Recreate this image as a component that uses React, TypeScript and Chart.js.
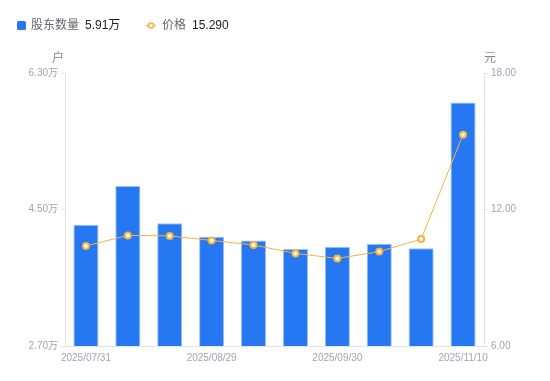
import React, { useEffect, useRef } from "react";
import { Chart, registerables } from "chart.js";

Chart.register(...registerables);

const categories = [
  "2025/07/31", "2025/08/10", "2025/08/20", "2025/08/29", "2025/09/10",
  "2025/09/19", "2025/09/30", "2025/10/20", "2025/10/31", "2025/11/10",
];
const holders = [4.30, 4.81, 4.32, 4.14, 4.09, 3.98, 4.01, 4.05, 3.99, 5.91];
const prices = [10.40, 10.86, 10.84, 10.64, 10.44, 10.07, 9.85, 10.15, 10.70, 15.29];
const leftTicks = [2.7, 4.5, 6.3];
const rightTicks = [6, 12, 18];

const FONT = "'Liberation Sans', 'Noto Sans CJK SC', sans-serif";
const BLUE = "#2677f2";
const ORANGE = "#f7b33c";
const TICK = "#a3a3b3";
const AXIS = "#e3e3e8";

export default function App() {
  const ref = useRef<HTMLCanvasElement>(null);
  useEffect(() => {
    document.body.style.margin = "0";
    const overlay = {
      id: "overlay",
      afterDraw(chart: any) {
        const ctx = chart.ctx;
        const ca = chart.chartArea;
        const ly = 25.5;
        ctx.save();
        ctx.font = `12px ${FONT}`;
        ctx.textBaseline = "middle";
        ctx.textAlign = "left";
        // legend item 1
        ctx.fillStyle = BLUE;
        ctx.beginPath();
        (ctx as any).roundRect ? (ctx as any).roundRect(17, 21, 9, 9, 1.5) : ctx.rect(17, 21, 9, 9);
        ctx.fill();
        ctx.fillStyle = "#666670";
        ctx.fillText("股东数量", 31, ly);
        ctx.fillStyle = "#222";
        ctx.fillText(holders[holders.length - 1].toFixed(2) + "万", 85, ly);
        // legend item 2
        ctx.strokeStyle = ORANGE;
        ctx.lineWidth = 1.5;
        ctx.beginPath();
        ctx.moveTo(146, ly);
        ctx.lineTo(156, ly);
        ctx.stroke();
        ctx.beginPath();
        ctx.arc(151, ly, 2.5, 0, Math.PI * 2);
        ctx.fillStyle = "#fff";
        ctx.fill();
        ctx.lineWidth = 1.5;
        ctx.stroke();
        ctx.fillStyle = "#666670";
        ctx.fillText("价格", 162, ly);
        ctx.fillStyle = "#222";
        ctx.fillText(prices[prices.length - 1].toFixed(3), 192, ly);
        // axis unit titles
        ctx.fillStyle = "#888890";
        ctx.font = `12px ${FONT}`;
        ctx.textAlign = "center";
        ctx.fillText("户", ca.left - 7, 58.5);
        ctx.fillText("元", ca.right + 6, 58.5);
        ctx.restore();
      },
    };
    const chart = new Chart(ref.current!, {
      type: "bar",
      data: {
        labels: categories,
        datasets: [
          {
            type: "line",
            label: "价格",
            data: prices,
            yAxisID: "y1",
            borderColor: ORANGE,
            borderWidth: 1,
            pointRadius: 3,
            pointBorderWidth: 2,
            pointBackgroundColor: "#fff",
            pointBorderColor: ORANGE,
            tension: 0,
            order: 0,
          } as any,
          {
            type: "bar",
            label: "股东数量",
            data: holders,
            yAxisID: "y",
            backgroundColor: BLUE,
            borderColor: "#9cc2fb",
            borderWidth: 1,
            categoryPercentage: 1,
            barPercentage: 0.6,
            order: 1,
          },
        ],
      },
      options: {
        animation: false,
        responsive: false,
        maintainAspectRatio: false,
        layout: { padding: { top: 73, left: 0, right: 0, bottom: 0 } },
        plugins: { legend: { display: false }, tooltip: { enabled: false } },
        scales: {
          x: {
            grid: { drawOnChartArea: false, drawTicks: false },
            border: { color: AXIS },
            ticks: {
              autoSkip: false,
              maxRotation: 0,
              padding: 6,
              color: TICK,
              font: { size: 10, family: FONT },
              callback: (_v: any, i: number) => (i % 3 === 0 ? categories[i] : ""),
            },
            afterFit: (s: any) => { s.height = 35; },
          },
          y: {
            position: "left",
            min: leftTicks[0],
            max: leftTicks[leftTicks.length - 1],
            afterBuildTicks: (s: any) => { s.ticks = leftTicks.map((v) => ({ value: v })); },
            grid: { drawOnChartArea: false, tickLength: 4, color: AXIS },
            border: { color: AXIS },
            ticks: {
              color: TICK,
              padding: 3,
              font: { size: 10, family: FONT },
              callback: (v: any) => Number(v).toFixed(2) + "万",
            },
            afterFit: (s: any) => { s.width = 65; },
          },
          y1: {
            position: "right",
            min: rightTicks[0],
            max: rightTicks[rightTicks.length - 1],
            afterBuildTicks: (s: any) => { s.ticks = rightTicks.map((v) => ({ value: v })); },
            grid: { drawOnChartArea: false, tickLength: 4, color: AXIS },
            border: { color: AXIS },
            ticks: {
              color: TICK,
              padding: 3,
              font: { size: 10, family: FONT },
              callback: (v: any) => Number(v).toFixed(2),
            },
            afterFit: (s: any) => { s.width = 66; },
          },
        },
      },
      plugins: [overlay],
    });
    return () => chart.destroy();
  }, []);
  return (
    <div style={{ width: 550, height: 381 }}>
      <canvas ref={ref} width={550} height={381} style={{ width: 550, height: 381 }} />
    </div>
  );
}
